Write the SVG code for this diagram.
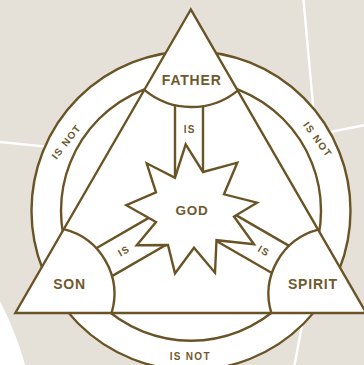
<svg xmlns="http://www.w3.org/2000/svg" width="364" height="365" viewBox="0 0 364 365">
<style>
.ln{fill:none;stroke:#6a5426;stroke-width:2.4}
.wf{fill:#fff;stroke:#6a5426;stroke-width:2.4;stroke-linejoin:miter}
.bg{fill:none;stroke:#fff;stroke-width:2.4}
.big{font-family:"Liberation Sans",Arial,sans-serif;font-weight:bold;font-size:14px;letter-spacing:0.8px;fill:#6e5a2d;text-anchor:middle}
.sm{font-family:"Liberation Sans",Arial,sans-serif;font-weight:bold;font-size:10px;letter-spacing:1.3px;fill:#6e5a2d;text-anchor:middle}
</style>
<rect width="364" height="365" fill="#e5e0d8"/>
<g id="background">
<path d="M0,301.5 C8,316 20,345 25,365 L0,365 Z" fill="#fff"/>
<path class="bg" d="M0,142 L46,146.6"/>
<path class="bg" d="M303.5,0 L313.5,110"/>
<path class="bg" d="M325,133 L364,125.3"/>
<path class="bg" d="M303,320 L294.5,365"/>
</g>
<g id="rings">
<circle cx="191" cy="210.7" r="159.5" class="wf"/>
<circle cx="191" cy="210.7" r="130" class="ln"/>
</g>
<g id="triangle">
<polygon points="190.8,9.5 15.3,313 366.3,313" class="wf"/>
</g>
<g id="connectors">
<path class="ln" d="M175,105.1 L175,186 M203,106 L203,182"/>
<path class="ln" d="M96.2,248.2 L160,211.4 M112,276.1 L174,240.3"/>
<path class="ln" d="M289.1,245.9 L226,209.4 M271.9,273 L210.8,237.7"/>
<text class="sm" x="189.8" y="133">IS</text>
<text class="sm" x="124.1" y="254.6" transform="rotate(-30 123.5 251)">IS</text>
<text class="sm" x="264.1" y="254.1" transform="rotate(30 263.5 250.5)">IS</text>
<text class="sm" x="66.6" y="145.6" transform="rotate(-52 66 142)">IS NOT</text>
<text class="sm" x="318.1" y="142.6" transform="rotate(54 317.5 139)">IS NOT</text>
<text class="sm" x="190.3" y="359.5">IS NOT</text>
</g>
<g id="father">
<path class="ln" d="M144.4,89.9 A73.2,73.2 0 0 0 237.7,90.6"/>
<text class="big" x="191.7" y="85">FATHER</text>
</g>
<g id="son">
<path class="ln" d="M63.7,229.2 A66.8,66.8 0 0 1 111.6,313"/>
<text class="big" x="69.6" y="288.7">SON</text>
</g>
<g id="spirit">
<path class="ln" d="M318.2,229.7 A66.5,66.5 0 0 0 271.3,313"/>
<text class="big" x="312.9" y="289.3">SPIRIT</text>
</g>
<g id="god">
<polygon class="wf" points="185.7,144.3 203,172 237.3,162.7 224,194.3 257,202.7 234,216.5 254,244.3 216.5,240.2 215,272.7 194,247.7 175,273.4 168,245 136.7,245.3 156,222 126.3,205.2 156,192.3 146.7,163.3 175,177.7"/>
<text class="big" x="192.1" y="215" style="font-size:13.5px">GOD</text>
</g>
</svg>
